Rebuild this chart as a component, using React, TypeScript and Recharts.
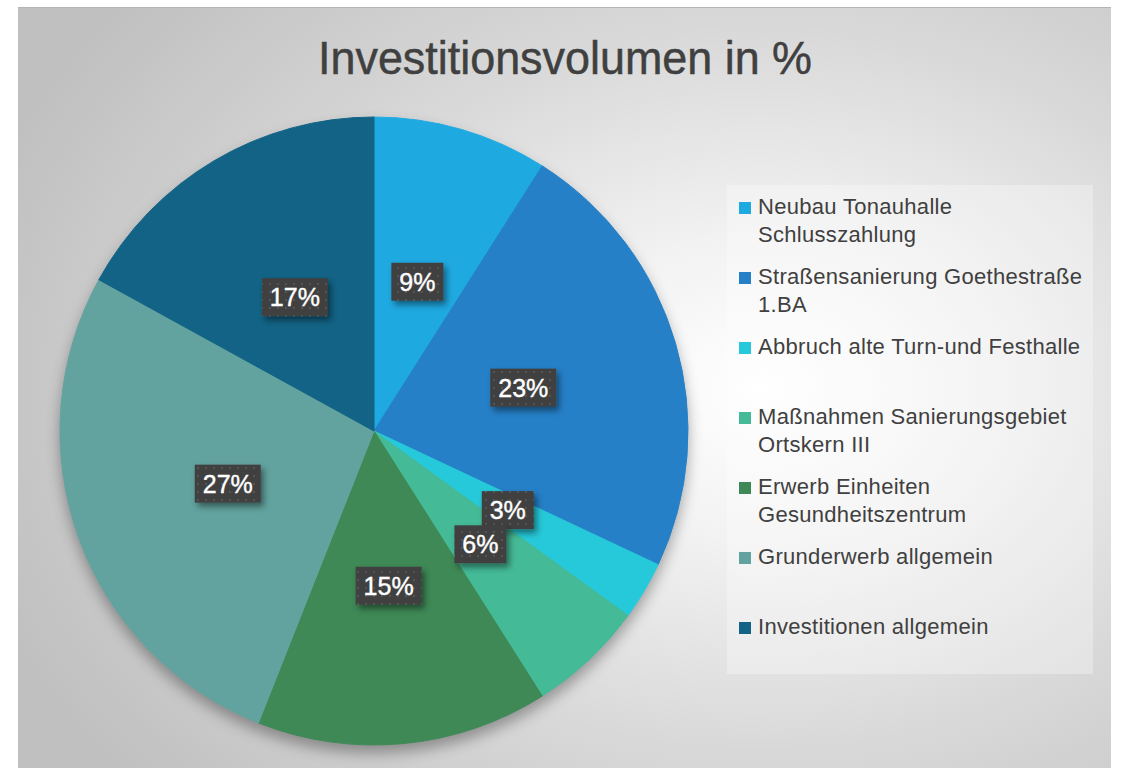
import React from "react";
import { PieChart, Pie, Cell, Legend } from "recharts";

const categories = [
  "Neubau Tonauhalle Schlusszahlung",
  "Straßensanierung Goethestraße 1.BA",
  "Abbruch alte Turn-und Festhalle",
  "Maßnahmen Sanierungsgebiet Ortskern III",
  "Erwerb Einheiten Gesundheitszentrum",
  "Grunderwerb allgemein",
  "Investitionen allgemein",
];
const shares = [9, 23, 3, 6, 15, 27, 17];
const colors = ["#1fa9e1", "#2580c7", "#26c9d9", "#44ba96", "#3e8956", "#62a39f", "#126385"];

const data = categories.map((name, i) => ({ name, value: shares[i] }));

const RAD = Math.PI / 180;
const FONT = "'Liberation Sans', Arial, sans-serif";

const renderLabel = (props: any) => {
  const { cx, cy, midAngle, outerRadius, value } = props;
  const r = outerRadius * 0.495;
  const x = cx + r * Math.cos(-midAngle * RAD);
  const y = cy + r * Math.sin(-midAngle * RAD);
  const text = `${value}%`;
  const w = text.length === 2 ? 52 : 66;
  const h = 38;
  return (
    <g>
      <rect x={x - w / 2} y={y - h / 2} width={w} height={h} fill="url(#lblDots)" filter="url(#lblShadow)" />
      <text x={x} y={y + 9} textAnchor="middle" fill="#ffffff" fontSize={25} fontFamily={FONT} stroke="#ffffff" strokeWidth={0.4}>
        {text}
      </text>
    </g>
  );
};

function LegendBox() {
  return (
    <div style={{ position: "relative", width: "100%", height: "100%", background: "rgba(255,255,255,0.3)" }}>
      {categories.map((name, i) => (
        <div key={name} style={{ position: "absolute", left: 12, top: 7.5 + i * 70, width: 350 }}>
          <div style={{ position: "absolute", left: 0, top: 9.5, width: 12, height: 12, background: colors[i] }} />
          <div
            style={{
              marginLeft: 19,
              width: 332,
              fontFamily: FONT,
              fontSize: 22,
              letterSpacing: 0.3,
              lineHeight: "28px",
              color: "#404040",
            }}
          >
            {name}
          </div>
        </div>
      ))}
    </div>
  );
}

export default function App() {
  return (
    <div
      style={{
        position: "absolute",
        left: 18,
        top: 7,
        width: 1093,
        height: 761,
        overflow: "hidden",
        borderTop: "1px solid #b4b4b4",
        background: "radial-gradient(ellipse 75% 80% at 68% 50%, #ffffff 0%, #f2f2f2 25%, #d8d8d8 60%, #c0c0c0 100%)",
      }}
    >
      <svg width={0} height={0} style={{ position: "absolute" }}>
        <defs>
          <pattern id="lblDots" width="8" height="8" patternUnits="userSpaceOnUse">
            <rect width="8" height="8" fill="#404040" />
            <rect x="3" y="3" width="2" height="2" fill="#555555" />
          </pattern>
          <filter id="lblShadow" x="-30%" y="-30%" width="170%" height="180%">
            <feDropShadow dx="3" dy="4" stdDeviation="3" floodColor="#000" floodOpacity="0.45" />
          </filter>
        </defs>
      </svg>
      <style>{`.recharts-pie { filter: drop-shadow(0px 8px 7px rgba(0,0,0,0.32)); }`}</style>
      <svg width={1093} height={90} style={{ position: "absolute", left: 0, top: 0 }}>
        <text
          x={300}
          y={66}
          fontSize={47}
          fontFamily={FONT}
          fill="#404040"
          stroke="#404040"
          strokeWidth={0.5}
          textLength={494}
          lengthAdjust="spacingAndGlyphs"
        >
          Investitionsvolumen in %
        </text>
      </svg>
      <PieChart width={1093} height={761} margin={{ top: 0, right: 0, bottom: 0, left: 0 }}>
        <Pie
          data={data}
          dataKey="value"
          nameKey="name"
          cx={356}
          cy={423}
          outerRadius={314}
          startAngle={90}
          endAngle={-270}
          label={renderLabel}
          labelLine={false}
          isAnimationActive={false}
        >
          {data.map((d, i) => (
            <Cell key={d.name} fill={colors[i]} stroke={colors[i]} strokeWidth={1} />
          ))}
        </Pie>
        <Legend
          layout="vertical"
          align="right"
          verticalAlign="top"
          wrapperStyle={{ left: 709, top: 177, width: 366, height: 489 }}
          content={() => <LegendBox />}
        />
      </PieChart>
    </div>
  );
}
